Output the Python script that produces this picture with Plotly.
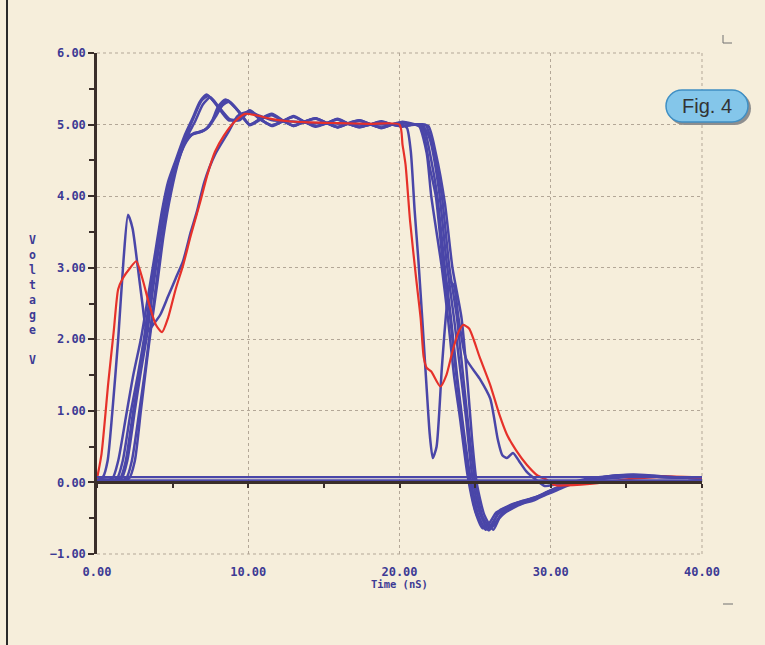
import plotly.graph_objects as go

# ---------------- data ----------------
RED_T = [0, 0.3, 0.75, 1.1, 1.4, 1.7, 2.2, 2.6, 3.0, 3.5,
         3.9, 4.3, 4.7, 5.2, 5.7, 6.2, 6.8, 7.3, 7.8, 8.4,
         9.1, 9.8, 10.5, 11.5, 12.5, 14, 16, 18, 20.0, 20.2,
         20.4, 20.7, 21.1, 21.4, 21.6, 21.8, 22.1, 22.7, 23.1, 23.5,
         23.9, 24.2, 24.6, 25.3, 26.0, 26.6, 27.1, 27.7, 28.4, 29.1,
         29.7, 30.3, 31.0, 32.0, 33.1, 34.5, 35.9, 38.1, 40]
RED_V = [0.05, 0.4, 1.4, 2.1, 2.7, 2.85, 3.0, 3.09, 2.85, 2.45,
         2.2, 2.1, 2.3, 2.7, 3.04, 3.45, 3.9, 4.3, 4.62, 4.85,
         5.04, 5.15, 5.13, 5.08, 5.05, 5.03, 5.02, 5.01, 5.0, 4.72,
         4.44, 3.65, 2.85, 2.29, 1.75, 1.6, 1.55, 1.34, 1.5, 1.83,
         2.1, 2.2, 2.15, 1.75, 1.36, 0.95, 0.67, 0.45, 0.25, 0.1,
         0.04, -0.04, -0.04, -0.03, -0.01, 0.03, 0.06, 0.08, 0.07]

SLOW_T = [0, 0.4, 0.7, 1.0, 1.4, 1.75, 2.05, 2.35, 2.7, 3.0,
          3.3, 3.7, 4.2, 4.7, 5.2, 5.7, 6.2, 6.6, 7.1, 7.8,
          8.7, 9.3, 10.0, 10.8, 11.6, 12.5, 13.5, 15, 16.5, 18,
          19.5, 20.2, 20.5, 20.75, 21.0, 21.25, 21.5, 21.8, 22.0, 22.2,
          22.45, 22.8, 23.1, 23.35, 23.6, 23.9, 24.4, 25.3, 26.0, 26.5,
          26.8, 27.1, 27.5, 27.9, 28.4, 29.0, 29.6, 30.3, 31.2, 32.5,
          34, 35.5, 37, 38.5, 40]
SLOW_V = [0.04, 0.08, 0.3, 0.95, 2.0, 3.1, 3.74, 3.55, 3.0, 2.5,
          2.1, 2.2, 2.35, 2.6, 2.85, 3.1, 3.5, 3.78, 4.2, 4.58,
          4.9, 5.12, 5.18, 5.12, 5.06, 5.05, 5.03, 5.02, 5.01, 5.0,
          5.0, 5.0, 4.95, 4.62, 3.8, 3.1, 2.3, 1.3, 0.67, 0.34,
          0.5, 1.6, 2.4, 2.8, 2.75, 2.3, 1.73, 1.45, 1.17, 0.6,
          0.38, 0.34, 0.41, 0.3, 0.15, 0.04, -0.05, -0.03, 0.0, 0.03,
          0.06, 0.08, 0.08, 0.07, 0.06]

RING_T = [10.8, 11.55, 12.3, 13.0, 13.7, 14.45, 15.2, 15.9, 16.6, 17.35, 18.1, 18.8, 19.5, 20.2]

B1_RISE_T = [0, 1.0, 1.4, 1.9, 2.4, 2.9, 3.3, 3.8, 4.3, 4.7, 5.2, 5.8, 6.3, 6.8, 7.25, 7.8, 8.7, 9.4, 10.1]
B1_RISE_V = [0.04, 0.05, 0.3, 0.9, 1.5, 2.0, 2.5, 3.15, 3.8, 4.2, 4.5, 4.85, 5.08, 5.32, 5.42, 5.3, 5.06, 5.08, 5.2]
B1_RING_V = [5.08, 4.98, 5.05, 5.12, 5.04, 4.97, 5.02, 5.08, 5.015, 4.96, 5.005, 5.045, 5.0, 4.97]
B1_FALL_T = [20.9, 21.3, 21.8, 22.1, 22.8, 23.2, 23.6, 24.0, 24.5, 25.0, 25.5, 25.9, 26.4, 26.9,
             27.5, 28.2, 29.0, 29.8, 30.6, 31.4, 32.4, 33.5, 34.6, 35.6, 37.0, 38.5, 40.0]
B1_FALL_V = [5.0, 4.98, 4.6, 4.0, 3.0, 2.3, 1.5, 0.9, 0.1, -0.4, -0.64, -0.58, -0.42, -0.36,
             -0.3, -0.26, -0.21, -0.13, -0.06, 0.0, 0.05, 0.08, 0.1, 0.1, 0.08, 0.07, 0.06]

B2_RISE_T = [0, 1.3, 1.7, 2.2, 2.7, 3.1, 3.5, 3.9, 4.4, 4.9, 5.4, 5.9, 6.4, 6.9, 7.35, 7.9, 8.7, 9.4, 10.1]
B2_RISE_V = [0.04, 0.05, 0.3, 0.95, 1.5, 2.0, 2.6, 3.2, 3.85, 4.25, 4.55, 4.85, 5.1, 5.33, 5.4, 5.28, 5.08, 5.06, 5.19]
B2_RING_V = [5.07, 4.99, 5.05, 5.11, 5.04, 4.98, 5.02, 5.07, 5.01, 4.97, 5.0, 5.04, 5.0, 4.98]
B2_FALL_T = [21.2, 21.6, 22.1, 22.5, 23.0, 23.4, 23.8, 24.2, 24.7, 25.2, 25.7, 26.1, 26.6, 27.2,
             27.8, 28.6, 29.4, 30.2, 31.0, 32.0, 33.2, 34.4, 35.5, 37.0, 38.5, 40.0]
B2_FALL_V = [5.0, 4.96, 4.5, 4.0, 3.0, 2.3, 1.5, 0.8, 0.05, -0.45, -0.66, -0.6, -0.4, -0.34,
             -0.28, -0.23, -0.17, -0.09, -0.03, 0.02, 0.06, 0.09, 0.1, 0.08, 0.07, 0.06]

B3_RISE_T = [0, 1.6, 2.0, 2.5, 2.9, 3.3, 3.7, 4.1, 4.6, 5.1, 5.6, 6.1, 6.6, 7.1, 7.6, 8.0, 8.5, 9.2, 10.1]
B3_RISE_V = [0.04, 0.05, 0.3, 1.0, 1.55, 2.05, 2.7, 3.3, 3.95, 4.35, 4.65, 4.85, 4.88, 4.92, 5.05, 5.25, 5.35, 5.22, 5.0]
B3_RING_V = [5.08, 5.14, 5.05, 4.98, 5.04, 5.09, 5.02, 4.96, 5.015, 5.06, 5.005, 4.955, 5.0, 5.03]
B3_FALL_T = [20.9, 21.5, 22.0, 22.6, 23.1, 23.6, 24.0, 24.4, 24.8, 25.3, 25.9, 26.3, 26.8, 27.3,
             27.9, 28.7, 29.5, 30.3, 31.1, 32.1, 33.2, 34.4, 35.5, 37.0, 38.5, 40.0]
B3_FALL_V = [5.0, 5.0, 4.8, 4.1, 3.1, 2.3, 1.6, 0.9, 0.1, -0.42, -0.67, -0.58, -0.43, -0.37,
             -0.3, -0.24, -0.18, -0.1, -0.03, 0.02, 0.06, 0.09, 0.1, 0.08, 0.07, 0.06]

B4_RISE_T = [0, 1.9, 2.3, 2.8, 3.2, 3.5, 3.9, 4.3, 4.8, 5.3, 5.8, 6.3, 6.8, 7.3, 7.8, 8.2, 8.65, 9.3, 10.1]
B4_RISE_V = [0.04, 0.05, 0.3, 1.0, 1.6, 2.1, 2.75, 3.4, 4.05, 4.45, 4.72, 4.86, 4.9, 4.95, 5.12, 5.28, 5.34, 5.2, 4.99]
B4_RING_V = [5.07, 5.13, 5.05, 4.99, 5.04, 5.08, 5.02, 4.97, 5.01, 5.05, 5.0, 4.96, 5.0, 5.03]
B4_FALL_T = [21.0, 21.7, 22.2, 22.8, 23.3, 23.8, 24.2, 24.6, 25.0, 25.5, 26.0, 26.4, 26.9, 27.4,
             28.0, 28.8, 29.6, 30.4, 31.2, 32.2, 33.3, 34.5, 35.5, 37.0, 38.5, 40.0]
B4_FALL_V = [5.0, 5.0, 4.7, 4.0, 3.0, 2.3, 1.5, 0.7, 0.0, -0.48, -0.63, -0.55, -0.4, -0.35,
             -0.3, -0.24, -0.16, -0.09, -0.02, 0.03, 0.07, 0.1, 0.11, 0.09, 0.07, 0.06]

B5_RISE_T = [0, 2.1, 2.5, 2.9, 3.3, 3.6, 4.0, 4.4, 4.9, 5.4, 5.9, 6.4, 6.9, 7.4, 7.9, 8.3, 8.75, 9.4, 10.1]
B5_RISE_V = [0.04, 0.05, 0.3, 1.0, 1.7, 2.2, 2.8, 3.45, 4.05, 4.5, 4.78, 4.88, 4.9, 4.97, 5.13, 5.27, 5.32, 5.18, 5.0]
B5_RING_V = [5.08, 5.15, 5.06, 4.98, 5.04, 5.09, 5.02, 4.96, 5.02, 5.06, 5.0, 4.95, 5.0, 5.04]
B5_FALL_T = [21.1, 21.9, 22.4, 23.0, 23.5, 24.1, 24.5, 24.8, 25.1, 25.6, 26.2, 26.6, 27.0, 27.5,
             28.1, 28.9, 29.7, 30.5, 31.3, 32.3, 33.4, 34.6, 35.6, 37.0, 38.5, 40.0]
B5_FALL_V = [5.0, 4.98, 4.6, 3.9, 3.0, 2.3, 1.4, 0.6, 0.0, -0.45, -0.66, -0.5, -0.42, -0.36,
             -0.3, -0.25, -0.17, -0.1, -0.03, 0.02, 0.06, 0.09, 0.1, 0.09, 0.07, 0.06]

B6_RISE_T = [0, 1.5, 1.9, 2.4, 2.8, 3.2, 3.6, 4.0, 4.5, 5.0, 5.5, 6.0, 6.5, 7.0, 7.5, 8.0, 8.8, 9.4, 10.1]
B6_RISE_V = [0.04, 0.05, 0.3, 1.0, 1.5, 2.0, 2.65, 3.25, 3.9, 4.3, 4.6, 4.85, 5.05, 5.28, 5.38, 5.26, 5.07, 5.07, 5.18]
B6_RING_V = [5.07, 4.99, 5.05, 5.11, 5.04, 4.98, 5.02, 5.07, 5.01, 4.97, 5.0, 5.04, 5.0, 4.98]
B6_FALL_T = [21.0, 21.5, 22.0, 22.4, 22.9, 23.3, 23.7, 24.1, 24.6, 25.1, 25.6, 26.0, 26.5, 27.0,
             27.6, 28.4, 29.2, 30.0, 30.8, 31.6, 32.6, 33.7, 34.8, 35.8, 37.0, 38.5, 40.0]
B6_FALL_V = [5.0, 4.95, 4.4, 4.0, 3.0, 2.4, 1.6, 0.9, 0.05, -0.45, -0.62, -0.6, -0.45, -0.36,
             -0.31, -0.25, -0.2, -0.12, -0.05, 0.0, 0.04, 0.08, 0.1, 0.1, 0.08, 0.07, 0.06]

FLAT_T = [0, 40]
FLAT_HI = [0.075, 0.075]
FLAT_LO = [0.03, 0.03]

X_TICKS = [0, 10, 20, 30, 40]
Y_TICKS = [-1, 0, 1, 2, 3, 4, 5, 6]

# ---------------- styling ----------------
BG = "#f6eedb"
BLUE = "#4a46a8"
RED = "#e6312a"
TXT = "#3d3a94"
AX = "#3a2e2a"
GRID = "#b3a797"
MONO = "DejaVu Sans Mono"

fig = go.Figure()

blue_sets = [
    (B1_RISE_T + RING_T + B1_FALL_T, B1_RISE_V + B1_RING_V + B1_FALL_V),
    (B2_RISE_T + RING_T + B2_FALL_T, B2_RISE_V + B2_RING_V + B2_FALL_V),
    (B3_RISE_T + RING_T + B3_FALL_T, B3_RISE_V + B3_RING_V + B3_FALL_V),
    (B4_RISE_T + RING_T + B4_FALL_T, B4_RISE_V + B4_RING_V + B4_FALL_V),
    (B5_RISE_T + RING_T + B5_FALL_T, B5_RISE_V + B5_RING_V + B5_FALL_V),
    (B6_RISE_T + RING_T + B6_FALL_T, B6_RISE_V + B6_RING_V + B6_FALL_V),
    (SLOW_T, SLOW_V),
]

for yv in (FLAT_HI, FLAT_LO):
    fig.add_trace(go.Scatter(x=FLAT_T, y=yv, mode="lines", xaxis="x2",
                             line=dict(color=BLUE, width=2.2), hoverinfo="skip",
                             showlegend=False))

for tx, vy in blue_sets:
    fig.add_trace(go.Scatter(x=tx, y=vy, mode="lines",
                             line=dict(color=BLUE, width=2.5, shape="spline", smoothing=0.6),
                             showlegend=False))

fig.add_trace(go.Scatter(x=RED_T, y=RED_V, mode="lines",
                         line=dict(color=RED, width=2.2, shape="spline", smoothing=0.6),
                         showlegend=False))

fig.update_layout(
    width=765, height=645,
    margin=dict(l=97, r=63, t=53, b=91, pad=0),
    paper_bgcolor=BG, plot_bgcolor=BG,
    showlegend=False,
    xaxis=dict(range=[0, 40], tickvals=X_TICKS, tickformat=".2f",
               showgrid=True, gridcolor=GRID, griddash="dot", gridwidth=1,
               showline=False, zeroline=False,
               ticks="outside", ticklen=7, tickcolor="rgba(0,0,0,0)",
               tickfont=dict(family=MONO, size=12, color=TXT, weight="bold")),
    xaxis2=dict(range=[0, 40], overlaying="x", anchor="free", position=1 / 7,
                showline=True, linecolor=AX, linewidth=2.5,
                ticks="outside", dtick=5, tick0=0, ticklen=4, tickwidth=2, tickcolor=AX,
                showticklabels=False, showgrid=False, zeroline=False),
    yaxis=dict(range=[-1, 6], tickvals=Y_TICKS, tickformat=".2f",
               showgrid=True, gridcolor=GRID, griddash="dot", gridwidth=1,
               showline=True, linecolor=AX, linewidth=2.5, zeroline=False,
               ticks="outside", ticklen=6, tickwidth=2, tickcolor=AX,
               minor=dict(dtick=0.5, ticks="outside", ticklen=5, tickwidth=2,
                          tickcolor=AX, showgrid=False),
               tickfont=dict(family=MONO, size=12, color=TXT, weight="bold")),
)

# dotted frame on the top, right and bottom edges (grid at 6, 40 and -1)
for (x0, y0, x1, y1) in [(0, 1, 1, 1), (1, 0, 1, 1), (0, 0, 1, 0)]:
    fig.add_shape(type="line", xref="paper", yref="paper", x0=x0, y0=y0, x1=x1, y1=y1,
                  line=dict(color=GRID, width=1, dash="dot"), layer="below")

# axis titles
fig.add_annotation(text="V<br>o<br>l<br>t<br>a<br>g<br>e<br><br>V",
                   xref="paper", yref="paper", x=-0.106, y=0.507,
                   showarrow=False, xanchor="center", yanchor="middle",
                   font=dict(family=MONO, size=11.5, color=TXT, weight="bold"))
fig.add_annotation(text="Time (nS)", xref="paper", yref="paper", x=0.5, y=-0.06,
                   showarrow=False, xanchor="center", yanchor="middle",
                   font=dict(family=MONO, size=10.5, color=TXT, weight="bold"))

# Fig. 4 badge (rounded pill)
W_PX, H_PX = 605.0, 501.0


def pill(x0px, y0px, x1px, y1px):
    # pixel coords (from figure top-left) -> paper path
    def px(x):
        return (x - 97) / W_PX

    def py(y):
        return (554 - y) / H_PX
    r = (y1px - y0px) / 2
    k = 0.5523 * r
    mid = (y0px + y1px) / 2
    pts = [
        f"M {px(x0px + r)},{py(y0px)}",
        f"L {px(x1px - r)},{py(y0px)}",
        f"C {px(x1px - r + k)},{py(y0px)} {px(x1px)},{py(mid - k)} {px(x1px)},{py(mid)}",
        f"C {px(x1px)},{py(mid + k)} {px(x1px - r + k)},{py(y1px)} {px(x1px - r)},{py(y1px)}",
        f"L {px(x0px + r)},{py(y1px)}",
        f"C {px(x0px + r - k)},{py(y1px)} {px(x0px)},{py(mid + k)} {px(x0px)},{py(mid)}",
        f"C {px(x0px)},{py(mid - k)} {px(x0px + r - k)},{py(y0px)} {px(x0px + r)},{py(y0px)}",
        "Z",
    ]
    return " ".join(pts)


fig.add_shape(type="path", xref="paper", yref="paper", path=pill(668, 92, 751, 125),
              fillcolor="#8e8e8e", line=dict(width=0), layer="above")
fig.add_shape(type="path", xref="paper", yref="paper", path=pill(666, 90, 748, 122),
              fillcolor="#84c6ea", line=dict(color="#3f8fc4", width=1.5), layer="above")
fig.add_annotation(text="Fig. 4", xref="paper", yref="paper",
                   x=(707 - 97) / W_PX, y=(554 - 106) / H_PX, showarrow=False,
                   xanchor="center", yanchor="middle",
                   font=dict(family="Liberation Sans", size=20, color="#333333"))

# page furniture: column rule and crop marks
fig.add_shape(type="line", xref="paper", yref="paper",
              x0=(7 - 97) / W_PX, x1=(7 - 97) / W_PX, y0=(554 - 645) / H_PX, y1=554 / H_PX,
              line=dict(color="#2a2a2a", width=2))
fig.add_shape(type="line", xref="paper", yref="paper",
              x0=(723 - 97) / W_PX, x1=(723 - 97) / W_PX, y0=(554 - 35) / H_PX, y1=(554 - 43) / H_PX,
              line=dict(color="#707070", width=1))
fig.add_shape(type="line", xref="paper", yref="paper",
              x0=(723 - 97) / W_PX, x1=(732 - 97) / W_PX, y0=(554 - 43) / H_PX, y1=(554 - 43) / H_PX,
              line=dict(color="#707070", width=1))
fig.add_shape(type="line", xref="paper", yref="paper",
              x0=(723 - 97) / W_PX, x1=(733 - 97) / W_PX, y0=(554 - 604) / H_PX, y1=(554 - 604) / H_PX,
              line=dict(color="#707070", width=1))

fig.write_html("out.html", config={"displayModeBar": False},
               post_script="document.body.style.margin='0';document.body.style.padding='0';"
                           "document.body.style.background='" + BG + "';")
